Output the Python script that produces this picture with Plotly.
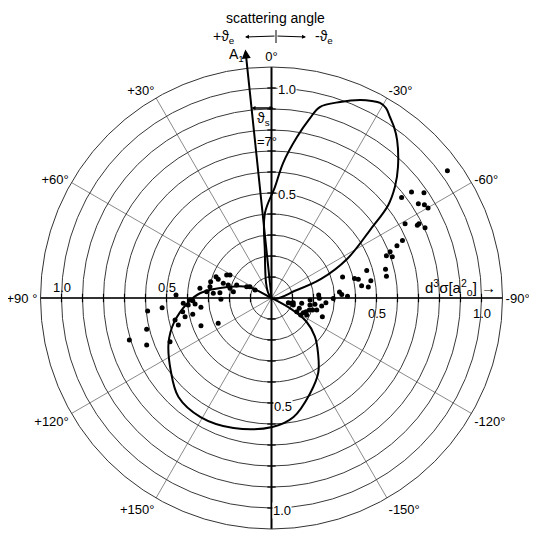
import math
import plotly.graph_objects as go

# ---------------- data ----------------
# measured points (theta in degrees, + = towards +theta_e side, r in a0^2 units)
dots_theta = [-54.1, -52.9, -55.4, -52.3, -57.3, -58.6, -60.1, -60.9, -63.5, -63.3,
              -65.4, -66.3, -67.4, -68.7, -71.1, -69.8, -75.8, -79.3, -73.9, -76.8,
              -77.8, -73.5, -82.3, -83.5, -80.2, -85.0, -87.1, -88.7, -90.5, -94.9,
              -86.4, -90.4, -99.1, -110.2, -98.2, -100.3, -107.6, -106.2, -111.7, -114.8,
              -100.0, -110.3, -118.5, -102.2, -105.2, -105.6, -120.2, -115.8, -93.0, -104.9,
              -107.8,
              106.5, 110.6, 104.1, 96.0, 95.1, 88.2, 106.2, 113.3, 102.8, 93.4,
              98.8, 94.8, 92.0, 94.5, 101.7, 97.5, 111.5, 82.3, 75.0, 79.6,
              69.0, 70.6, 62.8, 61.0, 73.0, 73.3, 76.8, 80.6, 91.5, 115.4,
              65.5, 62.3, 69.5, 85.4, 84.1, 84.4, 91.4, 102.2, 64.1]
dots_r = [1.034, 0.836, 0.882, 0.783, 0.831, 0.853, 0.860, 0.728, 0.776, 0.786,
          0.804, 0.681, 0.647, 0.606, 0.608, 0.583, 0.560, 0.557, 0.472, 0.406,
          0.423, 0.353, 0.433, 0.464, 0.480, 0.325, 0.335, 0.362, 0.294, 0.260,
          0.225, 0.228, 0.242, 0.258, 0.209, 0.186, 0.189, 0.204, 0.177, 0.167,
          0.146, 0.141, 0.137, 0.106, 0.096, 0.083, 0.161, 0.186, 0.184, 0.223,
          0.109,
          0.706, 0.635, 0.613, 0.593, 0.523, 0.455, 0.462, 0.526, 0.471, 0.421,
          0.428, 0.398, 0.375, 0.365, 0.383, 0.339, 0.361, 0.344, 0.300, 0.298,
          0.283, 0.269, 0.240, 0.226, 0.240, 0.215, 0.203, 0.184, 0.241, 0.281,
          0.130, 0.116, 0.177, 0.278, 0.247, 0.310, 0.388, 0.421, 0.087]

# theoretical curve: binary lobe
binary_theta = [9, 7.5, 4.4, -1.8, -4.9, -9.0, -12.1, -14.2, -19.3, -24.1, -27.0,
                -29.1, -31.1, -33.2, -35.6, -38.5, -44.0, -48.0, -51.5, -55.4,
                -62.7, -69.0, -72.6, -75]
binary_r = [0, 0.25, 0.406, 0.529, 0.645, 0.776, 0.876, 0.938, 0.989, 1.033, 1.053,
            1.063, 1.056, 1.030, 1.002, 0.961, 0.867, 0.791, 0.71, 0.57,
            0.405, 0.253, 0.127, 0]

# theoretical curve: recoil lobe
recoil_theta = [58, 65, 76, 86, 93.4, 104.3, 113.6, 125.5, 136.8, 149.2, 163.7,
                180.4, 190.5, 202, 212, 220, 228.3, 236, 241, 245]
recoil_r = [0, 0.126, 0.216, 0.339, 0.40, 0.48, 0.535, 0.59, 0.647, 0.66, 0.645,
            0.614, 0.576, 0.49, 0.42, 0.345, 0.277, 0.2, 0.1, 0]

angle_ticks = [0, 30, 60, 90, 120, 150, 180, 210, 240, 270, 300, 330]
angle_labels = ["0°", "+30°", "+60°", "+90 °", "+120°", "+150°", "+180°",
                "-150°", "-120°", "-90°", "-60°", "-30°"]
ring_vals = [0.1, 0.2, 0.3, 0.4, 0.5, 0.6, 0.7, 0.8, 0.9, 1.0]
r_max = 1.1
lab_r = [1.0, 0.5, 0.5, 1.0, 1.0, 0.5, 0.5, 1.0]
lab_theta = [0, 0, 180, 180, 90, 90, 270, 270]
lab_text = ["1.0", "0.5", "0.5", "1.0", "1.0", "0.5", "0.5", "1.0"]
a1_angle = 6.0
a1_len = 1.19

# ---------------- layout geometry (page pixels) ----------------
PAGE_W, PAGE_H = 537, 541
OFF = 8  # default body margin of the html page
W, H = PAGE_W - 2 * OFF, PAGE_H - 2 * OFF
CX, CY = 271.5, 298.0
R_OUT = 231.0
SCALE = R_OUT / r_max
FONT = "Liberation Sans"
# label offsets (pixels) from their (r, theta) anchor
lab_dx = [15, 15, 11, 10, 0, 0, 0, 0]
lab_dy = [1, 1, 3, 2, -11, -11, 15, 15]
lab_bg = [True, True, True, True, False, False, False, False]


def px(x):
    return (x - OFF) / W


def py(y):
    return 1 - (y - OFF) / H


def polar_px(r, th):
    a = math.radians(th)
    return CX - r * SCALE * math.sin(a), CY - r * SCALE * math.cos(a)


fig = go.Figure()

# main axes (thick)
fig.add_trace(go.Scatterpolar(r=[r_max, 0, r_max], theta=[0, 0, 180], mode="lines",
                              line=dict(color="black", width=2), hoverinfo="skip"))
fig.add_trace(go.Scatterpolar(r=[r_max, 0, r_max], theta=[90, 90, 270], mode="lines",
                              line=dict(color="black", width=1.6), hoverinfo="skip"))
# small ticks on the axes
fig.add_trace(go.Scatterpolar(r=ring_vals * 2, theta=[0] * 10 + [180] * 10, mode="markers",
                              marker=dict(symbol="line-ew", size=6,
                                          line=dict(color="black", width=1.2)),
                              hoverinfo="skip"))
fig.add_trace(go.Scatterpolar(r=ring_vals * 2, theta=[90] * 10 + [270] * 10, mode="markers",
                              marker=dict(symbol="line-ns", size=6,
                                          line=dict(color="black", width=1.2)),
                              hoverinfo="skip"))

# theory curves
fig.add_trace(go.Scatterpolar(r=binary_r, theta=binary_theta, mode="lines",
                              line=dict(color="black", width=2, shape="spline"),
                              hoverinfo="skip"))
fig.add_trace(go.Scatterpolar(r=recoil_r, theta=recoil_theta, mode="lines",
                              line=dict(color="black", width=2, shape="spline"),
                              hoverinfo="skip"))
# data points
fig.add_trace(go.Scatterpolar(r=dots_r, theta=dots_theta, mode="markers",
                              marker=dict(color="black", size=5), hoverinfo="skip"))

fig.update_layout(
    width=W, height=H, margin=dict(l=0, r=0, t=0, b=0),
    paper_bgcolor="white", showlegend=False,
    polar=dict(
        domain=dict(x=[px(CX - R_OUT), px(CX + R_OUT)], y=[py(CY + R_OUT), py(CY - R_OUT)]),
        bgcolor="white",
        radialaxis=dict(range=[0, r_max], tickmode="array", tickvals=ring_vals,
                        showticklabels=False, ticks="", showline=False,
                        gridcolor="#3a3a3a", gridwidth=0.9),
        angularaxis=dict(rotation=90, direction="counterclockwise", tickmode="array",
                         tickvals=angle_ticks, ticktext=angle_labels, ticks="",
                         showline=True, linecolor="#333", linewidth=1,
                         gridcolor="#8a8a8a", gridwidth=0.7,
                         tickfont=dict(family=FONT, size=13, color="black")),
    ),
)

ann = []


def text_ann(x, y, text, size=14, **kw):
    d = dict(x=px(x), y=py(y), xref="paper", yref="paper", text=text, showarrow=False,
             xanchor="center", yanchor="middle",
             font=dict(family=FONT, size=size, color="black"))
    d.update(kw)
    ann.append(d)


def arrow_ann(tip, tail, width=1, size=0.8):
    ann.append(dict(x=px(tip[0]), y=py(tip[1]), xref="paper", yref="paper", text="",
                    showarrow=True, ax=tail[0] - tip[0], ay=tail[1] - tip[1],
                    arrowhead=2, arrowsize=size, arrowwidth=width, arrowcolor="black"))


# radial value labels
for r, th, t, dx, dy, bg in zip(lab_r, lab_theta, lab_text, lab_dx, lab_dy, lab_bg):
    x, y = polar_px(r, th)
    kw = dict(bgcolor="white", borderpad=0) if bg else {}
    text_ann(x + dx, y + dy, t, size=13, **kw)

# A1 arrow
tip = polar_px(a1_len, a1_angle)
arrow_ann(tip, (CX, CY), width=2, size=0.9)
text_ann(236, 55, "A<sub>1</sub>")
# theta_s double arrow
yy = 108
xl = CX - (CY - yy) * math.tan(math.radians(a1_angle))
arrow_ann((xl, yy), (CX + 2, yy))
arrow_ann((CX + 2, yy), (xl, yy))
text_ann(263, 119, "ϑ<sub>s</sub>")
text_ann(267, 141, "=7°", size=13)
# header
text_ann(275, 18, "scattering angle")
text_ann(224, 37, "+ϑ<sub>e</sub>")
text_ann(324, 37, "-ϑ<sub>e</sub>")
arrow_ann((245, 37), (276, 36))
arrow_ann((306, 37), (276, 36))
# cross-section label
text_ann(460, 287, "d<sup>3</sup>σ[a<sup>2</sup><sub>o</sub>] →", size=15)
fig.update_layout(annotations=ann)
fig.add_shape(type="line", xref="paper", yref="paper", x0=px(276), x1=px(276),
              y0=py(30), y1=py(43), line=dict(color="black", width=1))

fig.write_html("out.html")
